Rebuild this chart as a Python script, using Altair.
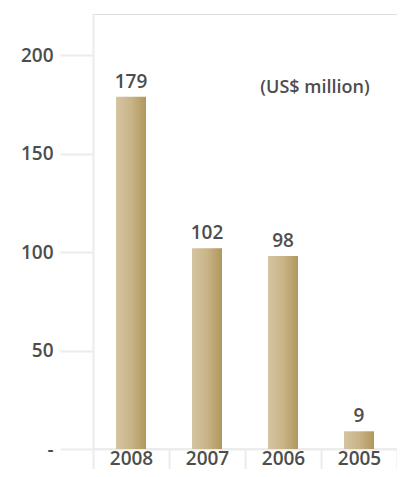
import altair as alt
import pandas as pd

years = ["2008", "2007", "2006", "2005"]
values = [179, 102, 98, 9]
unit_label = "(US$ million)"
y_ticks = [0, 50, 100, 150, 200]

df = pd.DataFrame({"year": years, "value": values})

FONT = "Open Sans"
TXT = "#4d4d4d"
LINE = "#ececec"
W, H = 304, 435
FS = 19

x_enc = alt.X(
    "year:N",
    sort=years,
    scale=alt.Scale(paddingInner=0, paddingOuter=0),
    axis=alt.Axis(
        title=None,
        tickBand="extent",
        tickSize=20,
        tickColor=LINE,
        tickWidth=2,
        domainColor=LINE,
        domainWidth=2,
        labelAngle=0,
        labelFont=FONT,
        labelFontSize=FS,
        labelFontWeight=600,
        labelColor=TXT,
        labelPadding=-5,
        labelBaseline="alphabetic",
    ),
)
y_enc = alt.Y(
    "value:Q",
    scale=alt.Scale(domain=[0, 221], nice=False, zero=True),
    axis=alt.Axis(
        title=None,
        values=y_ticks,
        grid=False,
        tickSize=33,
        tickColor=LINE,
        tickWidth=2,
        domainColor=LINE,
        domainWidth=2,
        labelFont=FONT,
        labelFontSize=FS,
        labelFontWeight=600,
        labelColor=TXT,
        labelPadding=7,
        labelExpr="datum.value == 0 ? '-' : datum.label",
    ),
)

gradient = alt.Gradient(
    gradient="linear",
    stops=[
        alt.GradientStop(color="#d6c5a2", offset=0),
        alt.GradientStop(color="#c9b488", offset=0.5),
        alt.GradientStop(color="#b0975c", offset=1),
    ],
    x1=0, x2=1, y1=0, y2=0,
)

bars = alt.Chart(df).mark_bar(size=30, color=gradient).encode(x=x_enc, y=y_enc)

labels = alt.Chart(df).mark_text(
    font=FONT, fontSize=FS, fontWeight=600, color=TXT, baseline="alphabetic", dy=-9
).encode(x=alt.X("year:N", sort=years), y="value:Q", text="value:Q")

baseline_ext = alt.Chart(pd.DataFrame({"v": [0]})).mark_rule(
    color=LINE, strokeWidth=2
).encode(x=alt.value(0), x2=alt.value(W + 12), y="v:Q")

note = alt.Chart(pd.DataFrame({"t": [unit_label]})).mark_text(
    font=FONT, fontSize=18, fontWeight=600, color=TXT, align="center", baseline="alphabetic"
).encode(x=alt.value(222), y=alt.value(79), text="t:N")

chart = (
    alt.layer(baseline_ext, bars, labels, note)
    .properties(
        width=W,
        height=H,
        padding={"left": 85, "top": 6, "right": 0, "bottom": 20},
        autosize=alt.AutoSizeParams(type="none"),
    )
    .configure_view(stroke=None)
    .configure(background="white")
)

chart.save("out.html", embed_options={"renderer": "svg", "actions": False})
